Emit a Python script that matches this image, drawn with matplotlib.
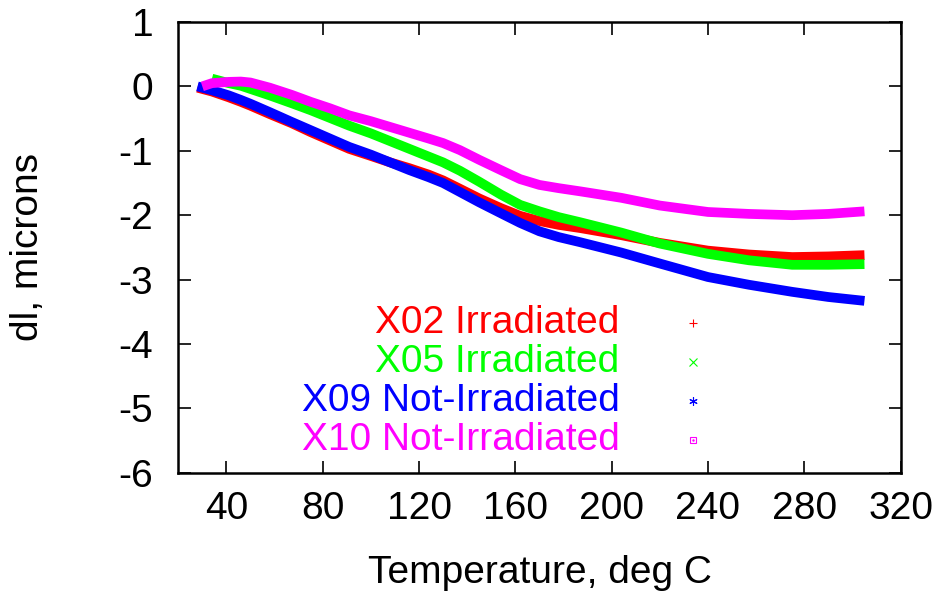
import matplotlib
matplotlib.use('Agg')
import matplotlib.pyplot as plt

plt.rcParams['font.family'] = ['Liberation Sans', 'DejaVu Sans']
plt.rcParams['axes.unicode_minus'] = False

# temperature, deg C
temp = [28, 30, 34, 41, 46, 50, 58, 67, 75, 83, 91, 100, 108, 116, 124, 130,
        137, 145, 154, 162, 170, 178, 187, 204, 220, 240, 257, 275, 290, 305]

# length change dl, microns (None = run not started yet)
x02 = [-0.02, -0.04, -0.08, -0.17, -0.24, -0.30, -0.43, -0.57, -0.71, -0.84,
       -0.97, -1.08, -1.18, -1.27, -1.37, -1.46, -1.59, -1.74, -1.89, -2.01,
       -2.09, -2.15, -2.20, -2.31, -2.43, -2.55, -2.61, -2.65, -2.64, -2.62]
x05 = [None, None, 0.12, 0.05, 0.01, -0.04, -0.14, -0.26, -0.37, -0.49,
       -0.61, -0.73, -0.85, -0.97, -1.09, -1.18, -1.31, -1.48, -1.68, -1.84,
       -1.94, -2.03, -2.11, -2.27, -2.44, -2.60, -2.70, -2.77, -2.77, -2.76]
x09 = [0.0, -0.02, -0.06, -0.14, -0.21, -0.27, -0.40, -0.55, -0.68, -0.81,
       -0.94, -1.06, -1.18, -1.30, -1.41, -1.50, -1.64, -1.80, -1.97, -2.12,
       -2.25, -2.34, -2.42, -2.58, -2.75, -2.96, -3.08, -3.19, -3.27, -3.33]
x10 = [None, 0.0, 0.05, 0.07, 0.075, 0.06, -0.02, -0.13, -0.24, -0.34,
       -0.45, -0.54, -0.63, -0.72, -0.81, -0.88, -0.99, -1.14, -1.30, -1.44,
       -1.53, -1.58, -1.63, -1.73, -1.85, -1.95, -1.98, -2.00, -1.98, -1.94]

names = ['X02 Irradiated', 'X05 Irradiated', 'X09 Not-Irradiated',
         'X10 Not-Irradiated']
colors = ['#ff0000', '#00ff00', '#0000ff', '#ff00ff']
markers = ['+', 'x', (6, 2, 0), 's']
series = [x02, x05, x09, x10]

FS = 28

fig = plt.figure(figsize=(9.43, 5.94), dpi=100)
ax = fig.add_axes([0.189, 0.204, 0.766, 0.759])

for ys, c in zip(series, colors):
    pts = [(t, y) for t, y in zip(temp, ys) if y is not None]
    ax.plot([p[0] for p in pts], [p[1] for p in pts], color=c, lw=7,
            solid_capstyle='butt', solid_joinstyle='round')

# key: right-aligned labels with a point sample beside each
for i, (name, c, m) in enumerate(zip(names, colors, markers)):
    yk = 0.333 - i * 0.087
    ax.text(0.611, yk, name, color=c, fontsize=FS, ha='right', va='center',
            transform=ax.transAxes)
    if m == 's':
        ax.plot([0.713], [yk], marker='s', ms=5, mfc='none', mec=c, mew=0.8,
                transform=ax.transAxes)
        ax.plot([0.713], [yk], marker='.', ms=1.5, color=c,
                transform=ax.transAxes)
    else:
        ax.plot([0.713], [yk], marker=m, ms=6, color=c, mew=0.8,
                transform=ax.transAxes)

ax.set_xlim(20, 320)
ax.set_ylim(-6, 1)
ax.set_xticks(range(40, 321, 40))
ax.set_yticks(range(-6, 2))
ax.tick_params(direction='in', length=9, width=1.2, top=True, right=True,
               labelsize=FS)
ax.tick_params(axis='x', pad=13)
ax.tick_params(axis='y', pad=18)
for s in ax.spines.values():
    s.set_linewidth(1.8)

fig.text(540 / 943, 1 - 583 / 594, 'Temperature, deg C', fontsize=FS,
         ha='center', va='baseline')
fig.text(28 / 943, 1 - 247 / 594, 'dl, microns', fontsize=FS,
         ha='center', va='center', rotation=90)

fig.savefig('out.png', dpi=100)
